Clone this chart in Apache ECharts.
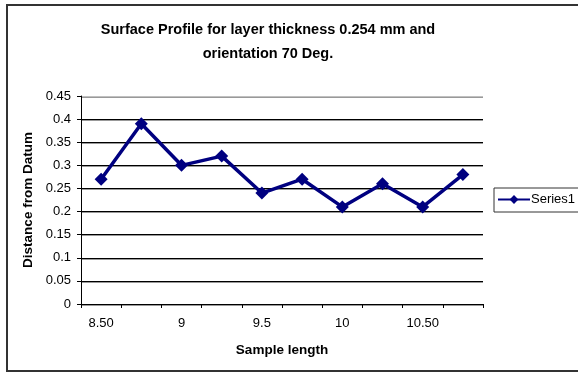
<!DOCTYPE html>
<html>
<head>
<meta charset="utf-8">
<script src="https://cdn.jsdelivr.net/npm/echarts@6/dist/echarts.min.js"></script>
<style>
html,body{margin:0;padding:0;background:#fff;}
#chart{width:578px;height:374px;}
</style>
</head>
<body>
<div id="chart"></div>
<script>
const categories = ["8.50","8.75","9","9.25","9.5","9.75","10","10.25","10.50","10.75"];
const series1 = [0.27,0.39,0.30,0.32,0.24,0.27,0.21,0.26,0.21,0.28];
const yTicks = [0,0.05,0.1,0.15,0.2,0.25,0.3,0.35,0.4,0.45];

const chart = echarts.init(document.getElementById('chart'), null, {renderer:'canvas'});
const font = 'Liberation Sans, Arial, sans-serif';
chart.setOption({
  animation:false,
  backgroundColor:'#fff',
  graphic:[{
    type:'rect', silent:true, z:-1,
    shape:{x:7, y:5, width:620, height:366},
    style:{fill:'#fff', stroke:'#333', lineWidth:2}
  }],
  title:{
    text:'Surface Profile for layer thickness 0.254 mm and\norientation 70 Deg.',
    left:263, top:13, textAlign:'center',
    textStyle:{fontFamily:font, fontSize:14.5, fontWeight:'bold', color:'#000', lineHeight:24}
  },
  legend:{
    data:['Series1'],
    left:494, top:188,
    orient:'vertical',
    borderColor:'#333', borderWidth:1, borderRadius:0,
    padding:[5,8,6,3],
    itemWidth:32, itemHeight:11, itemGap:0,
    textStyle:{fontFamily:font, fontSize:13, color:'#000', padding:[0,0,0,-4]}
  },
  grid:{left:81, right:95, top:96, bottom:70, containLabel:false},
  xAxis:{
    type:'category',
    data:categories,
    boundaryGap:true,
    name:'Sample length',
    nameLocation:'middle',
    nameGap:39,
    nameTextStyle:{fontFamily:font, fontSize:13.5, fontWeight:'bold', color:'#000'},
    axisLine:{lineStyle:{color:'#000', width:1}},
    axisTick:{show:true, interval:0, length:4, lineStyle:{color:'#000'}},
    axisLabel:{interval:1, margin:13, fontFamily:font, fontSize:13, color:'#000'},
    splitLine:{show:false}
  },
  yAxis:{
    type:'value',
    min:0, max:0.45, interval:0.05,
    name:'Distance from Datum',
    nameLocation:'middle',
    nameGap:45,
    nameRotate:90,
    nameTextStyle:{fontFamily:font, fontSize:13.5, fontWeight:'bold', color:'#000'},
    axisLine:{show:true, lineStyle:{color:'#000', width:1}},
    axisTick:{show:true, length:4, lineStyle:{color:'#000'}},
    axisLabel:{margin:10, fontFamily:font, fontSize:13, color:'#000',
      formatter: v => String(yTicks.find(t => Math.abs(t - v) < 1e-9) ?? v)},
    splitLine:{show:true, lineStyle:{
      color:['#000','#000','#000','#000','#000','#000','#000','#000','#000','#c0c0c0'],
      width:1, shadowColor:'#999', shadowOffsetY:1, shadowBlur:0}}
  },
  series:[{
    name:'Series1',
    type:'line',
    data:series1,
    symbol:'diamond',
    symbolSize:13,
    lineStyle:{color:'#000080', width:3.5},
    itemStyle:{color:'#000080'}
  }]
});
</script>
</body>
</html>
